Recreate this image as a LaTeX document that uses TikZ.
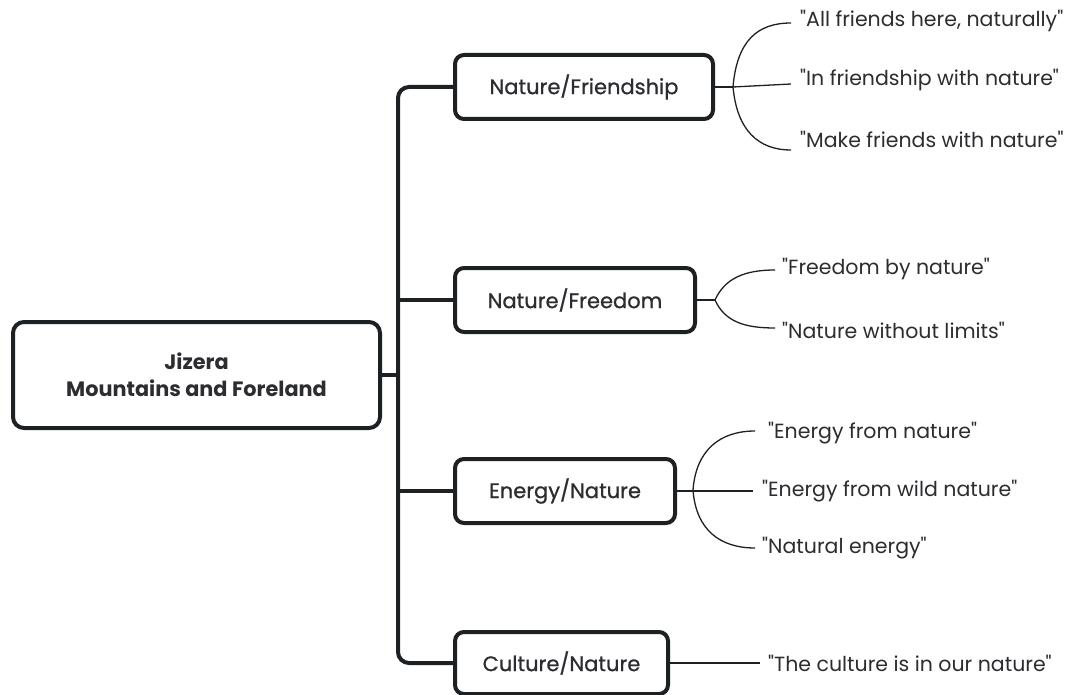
\documentclass[tikz,border=0pt]{standalone}
\usepackage{fontspec}
\setmainfont{Poppins}[Ligatures=TeXOff]
\newfontfamily\boxfont{Poppins}[FakeBold=0.8,Ligatures=TeXOff]
\definecolor{ink}{HTML}{1E2124}
\definecolor{txt}{HTML}{2B2D30}
\begin{document}
\begin{tikzpicture}[x=1pt,y=-1pt,
  catbox/.style={draw=ink, line width=4pt, rounded corners=9pt, minimum height=64pt, inner sep=0pt,
    font=\boxfont\fontsize{21}{25}\selectfont, text=txt},
  rootbox/.style={draw=ink, line width=4pt, rounded corners=11pt, minimum width=367pt, minimum height=106pt,
    align=center, font=\bfseries\fontsize{20.8}{27}\selectfont, text=txt},
  leaf/.style={anchor=west, inner xsep=0pt, inner ysep=2pt, font=\fontsize{20.5}{24}\selectfont, text=txt},
  trunk/.style={draw=ink, line width=4pt},
  leafline/.style={draw=ink, line width=1.3pt}]
\useasboundingbox (0,0) rectangle (1078,695);
\fill[white] (0,0) rectangle (1078,695);

\node[rootbox] (root) at (196.5,375) {Jizera\\Mountains and Foreland};
\node[catbox, minimum width=258pt] (c1) at (584,87) {Nature/Friendship};
\node[catbox, minimum width=240pt] (c2) at (575,300) {Nature/Freedom};
\node[catbox, minimum width=220pt] (c3) at (565,491) {Energy/Nature};
\node[catbox, minimum width=213pt, minimum height=62pt] (c4) at (561.5,663) {Culture/Nature};

\coordinate (tb) at (398,663);
\draw[trunk, rounded corners=11pt] (c1.west) -- (c1.west -| tb) -- (tb) -- (c4.west);
\draw[trunk] (root.east) -- (root.east -| tb);
\draw[trunk] (c2.west) -- (c2.west -| tb);
\draw[trunk] (c3.west) -- (c3.west -| tb);

% group 1
\node[leaf] (l11) at (800,21) {"All friends here, naturally"};
\node[leaf] (l12) at (800,80) {"In friendship with nature"};
\node[leaf] (l13) at (800,139) {"Make friends with nature"};
\coordinate (b1) at (733,87);
\draw[leafline] (c1.east) -- (b1);
\draw[leafline] (b1) .. controls (737,40) and (758,23) .. ([xshift=-9pt,yshift=-2pt]l11.west);
\draw[leafline] (b1) -- ([xshift=-9pt,yshift=-4pt]l12.west);
\draw[leafline] (b1) .. controls (737,130) and (758,150) .. ([xshift=-9pt,yshift=-11pt]l13.west);

% group 2
\node[leaf] (l21) at (782,269) {"Freedom by nature"};
\node[leaf] (l22) at (782,330) {"Nature without limits"};
\coordinate (b2) at (715,300);
\draw[leafline] (c2.east) -- (b2);
\draw[leafline] (b2) .. controls (725,278) and (745,270) .. ([xshift=-7pt,yshift=-1pt]l21.west);
\draw[leafline] (b2) .. controls (725,322) and (745,328) .. ([xshift=-7pt,yshift=2pt]l22.west);

% group 3
\node[leaf] (l31) at (768,433) {"Energy from nature"};
\node[leaf] (l32) at (762,491) {"Energy from wild nature"};
\node[leaf] (l33) at (762,548) {"Natural energy"};
\coordinate (b3) at (693,490);
\draw[leafline] (c3.east) -- ([xshift=-9pt]l32.west);
\draw[leafline] (b3) .. controls (696,450) and (720,431) .. ([xshift=-13pt,yshift=2pt]l31.west);
\draw[leafline] (b3) .. controls (696,530) and (720,548) .. ([xshift=-7pt]l33.west);

% group 4
\node[leaf] (l41) at (768,663) {"The culture is in our nature"};
\draw[leafline] (c4.east) -- ([xshift=-8pt]l41.west);
\end{tikzpicture}
\end{document}
